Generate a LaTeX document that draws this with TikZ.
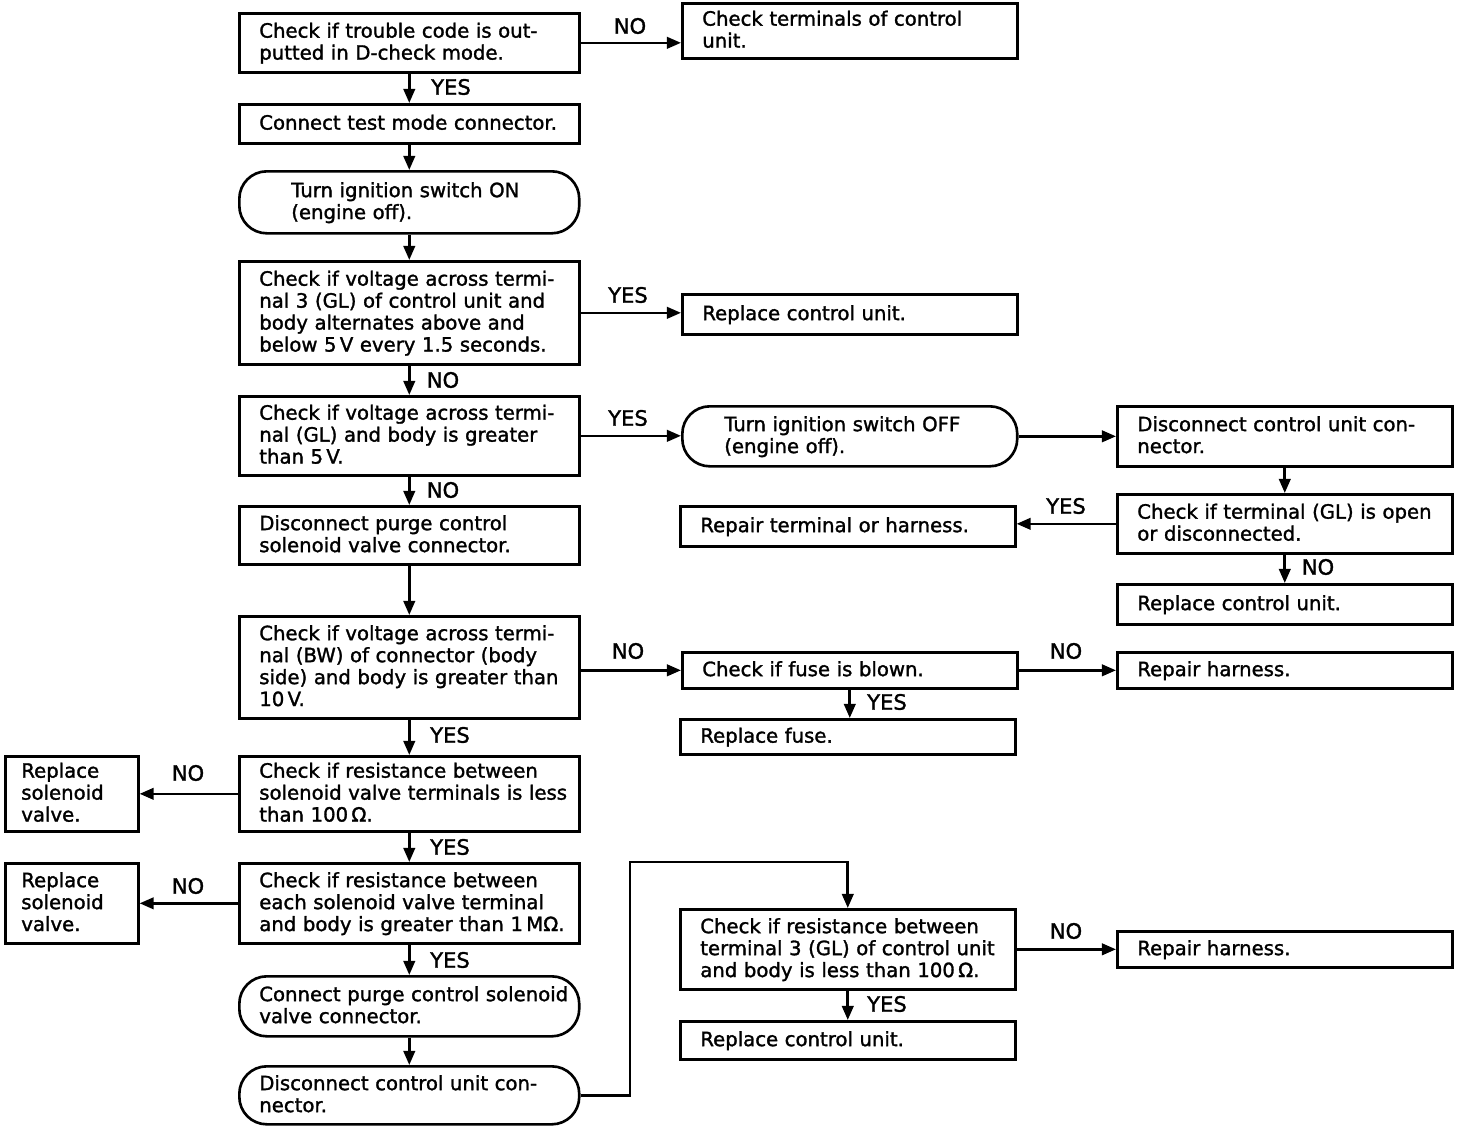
\documentclass[tikz,border=0pt]{standalone}
\usepackage{fontspec}
\setmainfont{DejaVu Sans}[UprightFeatures={FakeBold=1.5}]
\usetikzlibrary{arrows.meta}
\newcommand\ml[1]{\raisebox{-0.8pt}[\height][\depth]{\begin{tabular}{@{}l@{}}#1\end{tabular}}}
\begin{document}
\begin{tikzpicture}[x=0.02cm,y=-0.02cm,
  box/.style={draw, line width=1.5pt, anchor=north west, align=left, inner ysep=0pt, inner xsep=0.4cm,
    font=\fontsize{11.2}{12.5}\selectfont},
  Lb/.style={box, minimum width=6.8cm, text width=6.0cm},
  Rb/.style={box, minimum width=6.7cm, text width=5.9cm},
  Sb/.style={box, minimum width=2.66cm, text width=2.02cm, inner xsep=0.32cm},
  rnd/.style={rounded corners=0.55cm},
  ht/.style={minimum height=#1*0.02cm},
  arr/.style={line width=1.5pt, -{Triangle[length=8pt,width=6.5pt]}},
  lab/.style={font=\fontsize{12}{13}\selectfont, inner sep=0pt}
]
\useasboundingbox (0,0) rectangle (1472,1126);

% left column
\node[Lb, ht=59] (B1) at (238,12) {\ml{Check if trouble code is out-\\putted in D-check mode.}};
\node[Lb, ht=39] (B2) at (238,103) {\ml{Connect test mode connector.}};
\node[Lb, rnd, ht=62, inner xsep=1.04cm, text width=4.72cm] (B3) at (238,170) {\ml{Turn ignition switch ON\\(engine off).}};
\node[Lb, ht=103] (B4) at (238,260) {\ml{Check if voltage across termi-\\nal 3 (GL) of control unit and\\body alternates above and\\below 5\,V every 1.5 seconds.}};
\node[Lb, ht=79] (B5) at (238,395) {\ml{Check if voltage across termi-\\nal (GL) and body is greater\\than 5\,V.}};
\node[Lb, ht=58] (B6) at (238,505) {\ml{Disconnect purge control\\solenoid valve connector.}};
\node[Lb, ht=102] (B7) at (238,615) {\ml{Check if voltage across termi-\\nal (BW) of connector (body\\side) and body is greater than\\10\,V.}};
\node[Lb, ht=75] (B8) at (238,755) {\ml{Check if resistance between\\solenoid valve terminals is less\\than 100\,Ω.}};
\node[Lb, ht=80] (B9) at (238,862) {\ml{Check if resistance between\\each solenoid valve terminal\\and body is greater than 1\,MΩ.}};
\node[Lb, rnd, ht=60] (B10) at (238,975) {\ml{Connect purge control solenoid\\valve connector.}};
\node[Lb, rnd, ht=58] (B11) at (238,1065) {\ml{Disconnect control unit con-\\nector.}};

% right side
\node[Rb, ht=55] (R1) at (681,2) {\ml{Check terminals of control\\unit.}};
\node[Rb, ht=40] (R2) at (681,293) {\ml{Replace control unit.}};
\node[Rb, rnd, ht=60, inner xsep=0.84cm, text width=5.02cm] (R3) at (681,405) {\ml{Turn ignition switch OFF\\(engine off).}};
\node[Rb, ht=60] (R4) at (1116,405) {\ml{Disconnect control unit con-\\nector.}};
\node[Rb, ht=59] (R5) at (1116,493) {\ml{Check if terminal (GL) is open\\or disconnected.}};
\node[Rb, ht=40] (R6) at (679,505) {\ml{Repair terminal or harness.}};
\node[Rb, ht=40] (R7) at (1116,583) {\ml{Replace control unit.}};
\node[Rb, ht=36] (R8) at (681,651) {\ml{Check if fuse is blown.}};
\node[Rb, ht=36] (R9) at (1116,651) {\ml{Repair harness.}};
\node[Rb, ht=35] (R10) at (679,718) {\ml{Replace fuse.}};
\node[Sb, ht=75] (L1) at (4,755) {\ml{Replace\\solenoid\\valve.}};
\node[Sb, ht=80] (L2) at (4,862) {\ml{Replace\\solenoid\\valve.}};
\node[Rb, ht=80] (R11) at (679,908) {\ml{Check if resistance between\\terminal 3 (GL) of control unit\\and body is less than 100\,Ω.}};
\node[Rb, ht=36] (R12) at (1116,930) {\ml{Repair harness.}};
\node[Rb, ht=38] (R13) at (679,1020) {\ml{Replace control unit.}};

% connectors
\draw[arr] (B1.east) -- (B1.east -| R1.west);
\draw[arr] (B1.south) -- (B2.north);
\draw[arr] (B2.south) -- (B3.north);
\draw[arr] (B3.south) -- (B4.north);
\draw[arr] (B4.east) -- (B4.east -| R2.west);
\draw[arr] (B4.south) -- (B5.north);
\draw[arr] (B5.east) -- (B5.east -| R3.west);
\draw[arr] (R3.east) -- (R3.east -| R4.west);
\draw[arr] (R4.south) -- (R5.north);
\draw[arr] (R5.west) -- (R5.west -| R6.east);
\draw[arr] (R5.south) -- (R7.north);
\draw[arr] (B5.south) -- (B6.north);
\draw[arr] (B6.south) -- (B7.north);
\draw[arr] (R8.west -| B7.east) -- (R8.west);
\draw[arr] (R8.east) -- (R9.west);
\draw[arr] (R8.south) -- (R8.south |- R10.north);
\draw[arr] (B7.south) -- (B8.north);
\draw[arr] (B8.west) -- (L1.east);
\draw[arr] (B8.south) -- (B9.north);
\draw[arr] (B9.west) -- (L2.east);
\draw[arr] (B9.south) -- (B10.north);
\draw[arr] (B10.south) -- (B11.north);
\coordinate (k1) at (630,862);
\draw[arr] (B11.east) -| (k1) -| (R11.north);
\draw[arr] (R11.east) -- (R11.east -| R12.west);
\draw[arr] (R11.south) -- (R13.north);

% labels
\node[lab] (t1) at (630,26) {NO};
\node[lab] (t2) at (451,87) {YES};
\node[lab] (t3) at (628,295) {YES};
\node[lab] (t4) at (443,380) {NO};
\node[lab] (t5) at (628,418) {YES};
\node[lab] (t6) at (1066,506) {YES};
\node[lab] (t7) at (1318,567) {NO};
\node[lab] (t8) at (443,490) {NO};
\node[lab] (t9) at (628,651) {NO};
\node[lab] (t10) at (1066,651) {NO};
\node[lab] (t11) at (887,702) {YES};
\node[lab] (t12) at (450,735) {YES};
\node[lab] (t13) at (188,773) {NO};
\node[lab] (t14) at (450,847) {YES};
\node[lab] (t15) at (188,886) {NO};
\node[lab] (t16) at (450,960) {YES};
\node[lab] (t17) at (1066,931) {NO};
\node[lab] (t18) at (887,1004) {YES};
\end{tikzpicture}
\end{document}
